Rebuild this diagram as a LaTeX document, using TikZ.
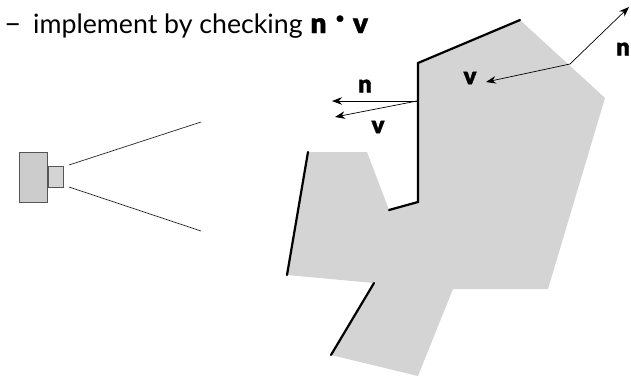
\documentclass[tikz,border=0pt]{standalone}
\usepackage{fontspec}
\setmainfont{Lato}
\newfontfamily\heavyfont[FakeBold=1.5]{Lato Black}
\usepackage{tikz}
\usetikzlibrary{positioning, arrows.meta}
\definecolor{surfgray}{HTML}{D4D4D4}
\definecolor{camgray}{HTML}{CCCCCC}
\definecolor{camline}{HTML}{555555}

\begin{document}
\begin{tikzpicture}[
  x=1pt, y=-1pt,
  surface/.style={fill=surfgray, draw=none},
  silhouette/.style={line width=2.2pt, draw=black, line cap=round, line join=miter},
  camBody/.style={draw=camline, fill=camgray, line width=1pt, inner sep=0pt, minimum width=28pt, minimum height=50pt},
  camLens/.style={draw=camline, fill=camgray!85, line width=1pt, inner sep=0pt, minimum width=15pt, minimum height=21pt},
  viewLine/.style={draw=black!85, line width=0.7pt},
  vecArrow/.style={-{Stealth[length=10pt, width=7.5pt]}, draw=black, line width=0.7pt},
  vecLabel/.style={font=\heavyfont\fontsize{24}{24}\selectfont, inner sep=0pt},
  titleVec/.style={font=\heavyfont\fontsize{28}{28}\selectfont, inner sep=0pt, anchor=base}
]
\useasboundingbox (0,0) rectangle (631,378);

% Title line
\node[anchor=base west, inner sep=0pt, font=\fontsize{26.7}{28}\selectfont] (title) at (33,33) {implement by checking};
\node[anchor=base west, inner sep=0pt, font=\fontsize{30}{30}\selectfont] (dash) at (4,33) {--};
\node[titleVec] (titleN) at (318.5,33) {n};
\node[titleVec] (titleDot) at (340,27) {·};
\node[titleVec] (titleV) at (360.5,33) {v};

% Camera and view cone
\node[camBody] (body) at (33,177) {};
\node[camLens, right=0pt of body] (lens) {};
\coordinate (viewA) at (69,165);
\coordinate (viewB) at (201,122);
\coordinate (viewC) at (69,187);
\coordinate (viewD) at (201,231);
\draw[viewLine] (viewA) -- (viewB);
\draw[viewLine] (viewC) -- (viewD);

% Outline corners
\coordinate (p1) at (418,63);
\coordinate (p2) at (520,20);
\coordinate (p3) at (605,98);
\coordinate (p4) at (548,289);
\coordinate (p5) at (453,289);
\coordinate (p6) at (418,376);
\coordinate (p7) at (331,355);
\coordinate (p8) at (374,283);
\coordinate (p9) at (287,275);
\coordinate (p10) at (308,152);
\coordinate (p11) at (367,152);
\coordinate (p12) at (389,210);
\coordinate (p13) at (418,202);

\fill[surface] (p1) -- (p2) -- (p3) -- (p4) -- (p5) -- (p6) -- (p7) -- (p8) -- (p9) -- (p10) -- (p11) -- (p12) -- (p13) -- cycle;

% Silhouette edges
\draw[silhouette] (p2) -- (p1) -- (p13) -- (p12);
\draw[silhouette] (p10) -- (p9);
\draw[silhouette] (p8) -- (p7);

% Vectors on the left edge
\coordinate (edgeHit) at (417,101);
\coordinate (edgeN) at (332,101);
\coordinate (edgeV) at (335,117);
\draw[vecArrow] (edgeHit) -- (edgeN);
\draw[vecArrow] (edgeHit) -- (edgeV);
\node[vecLabel] (labN) at (365,86) {n};
\node[vecLabel] (labV) at (378,127) {v};

% Vectors on the right edge
\coordinate (backHit) at (570,64);
\coordinate (backN) at (629,7);
\coordinate (backV) at (486,82);
\draw[vecArrow] (backHit) -- (backN);
\draw[vecArrow] (backHit) -- (backV);
\node[vecLabel] (labNb) at (623,49) {n};
\node[vecLabel] (labVb) at (470,78) {v};

\end{tikzpicture}
\end{document}
